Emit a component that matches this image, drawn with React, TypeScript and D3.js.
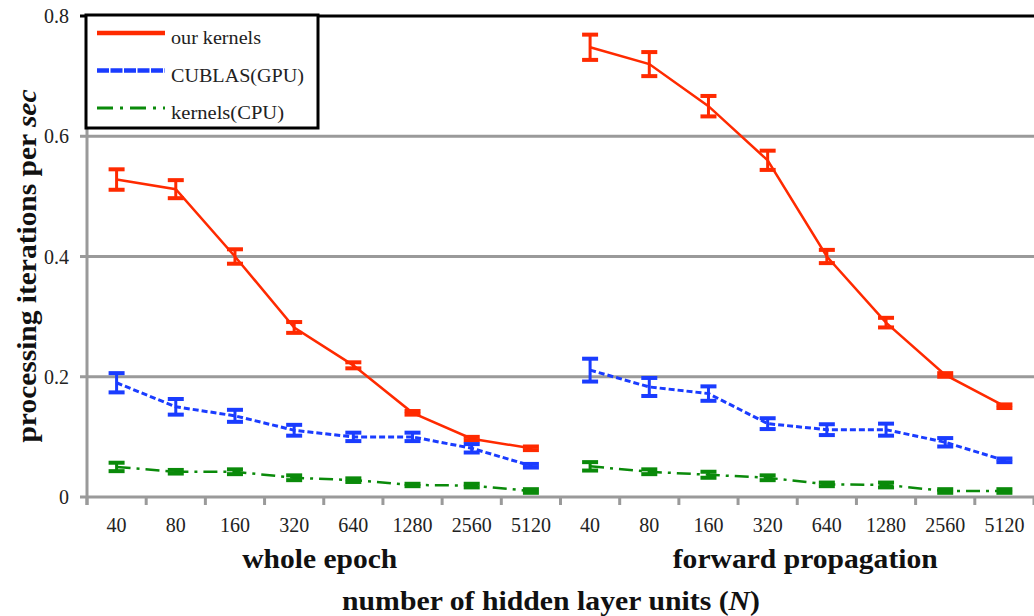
import React from 'react';
import * as d3 from 'd3';

// hidden layer sizes, same for both panels
const units = ['40', '80', '160', '320', '640', '1280', '2560', '5120'];
const panels = ['whole epoch', 'forward propagation'];
const yTicks = [0, 0.2, 0.4, 0.6, 0.8];

// whole epoch
const oursWhole = [0.528, 0.512, 0.4, 0.282, 0.219, 0.14, 0.097, 0.081];
const oursWholeErr = [0.017, 0.015, 0.012, 0.009, 0.005, 0.003, 0.003, 0.003];
const cublasWhole = [0.19, 0.15, 0.135, 0.111, 0.1, 0.1, 0.081, 0.052];
const cublasWholeErr = [0.016, 0.013, 0.01, 0.009, 0.007, 0.007, 0.007, 0.003];
const cpuWhole = [0.05, 0.042, 0.042, 0.032, 0.028, 0.02, 0.019, 0.01];
const cpuWholeErr = [0.007, 0.003, 0.004, 0.004, 0.003, 0.002, 0.003, 0.003];

// forward propagation
const oursFwd = [0.748, 0.72, 0.65, 0.56, 0.4, 0.29, 0.203, 0.151];
const oursFwdErr = [0.021, 0.02, 0.017, 0.016, 0.011, 0.008, 0.003, 0.003];
const cublasFwd = [0.211, 0.183, 0.172, 0.122, 0.112, 0.112, 0.091, 0.061];
const cublasFwdErr = [0.019, 0.015, 0.012, 0.009, 0.009, 0.01, 0.007, 0.003];
const cpuFwd = [0.051, 0.042, 0.037, 0.032, 0.021, 0.02, 0.01, 0.01];
const cpuFwdErr = [0.007, 0.004, 0.005, 0.004, 0.003, 0.004, 0.003, 0.003];

const series = [
  { name: 'our kernels', color: '#ff2a00', dash: undefined, width: 2.5, panels: [[oursWhole, oursWholeErr], [oursFwd, oursFwdErr]] },
  { name: 'CUBLAS(GPU)', color: '#1a3cff', dash: '6 3', width: 3, panels: [[cublasWhole, cublasWholeErr], [cublasFwd, cublasFwdErr]] },
  { name: 'kernels(CPU)', color: '#0a8a0a', dash: '14 6 3 6', width: 2.5, panels: [[cpuWhole, cpuWholeErr], [cpuFwd, cpuFwdErr]] },
];

const W = 1034;
const H = 616;
const left = 87;
const top = 16;
const bottom = 497;
const serif = '"Liberation Serif", "Times New Roman", serif';

export default function App() {
  const keys = panels.flatMap((p) => units.map((u) => p + '|' + u));
  const x = d3.scaleBand<string>().domain(keys).range([left, W]).padding(0);
  const y = d3.scaleLinear().domain([0, 0.8]).range([bottom, top]);
  const bw = x.bandwidth();

  const line = d3.line<[number, number]>().x((d) => d[0]).y((d) => d[1]);

  return (
    <svg width={W} height={H} style={{ position: 'absolute', left: 0, top: 0, background: '#fff' }}>
      {/* grid */}
      {yTicks.map((t) => (
        <g key={t}>
          <line x1={left - 7} x2={W} y1={y(t)} y2={y(t)} stroke={t === 0.8 ? '#000' : '#9a9a9a'} strokeWidth={3} />
          <text x={69} y={y(t) + 7} textAnchor="end" fontFamily={serif} fontSize={20} fill="#222">
            {t === 0 ? '0' : t.toFixed(1)}
          </text>
        </g>
      ))}
      <line x1={left} x2={left} y1={top} y2={bottom + 8} stroke="#9a9a9a" strokeWidth={3} />
      {d3.range(keys.length + 1).map((i) => (
        <line key={i} x1={left + i * bw} x2={left + i * bw} y1={bottom} y2={bottom + 8} stroke="#9a9a9a" strokeWidth={3} />
      ))}

      {/* x tick labels */}
      {keys.map((k) => (
        <text key={k} x={x(k)! + bw / 2} y={532} textAnchor="middle" fontFamily={serif} fontSize={20} fill="#222">
          {k.split('|')[1]}
        </text>
      ))}
      {panels.map((p, i) => (
        <text key={p} x={x(p + '|' + units[0])! + (bw * units.length) / 2 + (i === 0 ? -4 : 8)} y={568}
          textAnchor="middle" fontFamily={serif} fontSize={27} fontWeight="bold" fill="#111"
          textLength={i === 0 ? 155 : 265} lengthAdjust="spacingAndGlyphs">
          {p}
        </text>
      ))}
      <text x={551} y={610} textAnchor="middle" fontFamily={serif} fontSize={27} fontWeight="bold" fill="#111"
        textLength={418} lengthAdjust="spacingAndGlyphs">
        number of hidden layer units (<tspan fontStyle="italic">N</tspan>)
      </text>
      <text transform="translate(36,266) rotate(-90)" textAnchor="middle" fontFamily={serif} fontSize={27} fontWeight="bold" fill="#111"
        textLength={353} lengthAdjust="spacingAndGlyphs">
        processing iterations per <tspan fontStyle="italic">sec</tspan>
      </text>

      {/* series */}
      {series.map((s) => (
        <g key={s.name}>
          {s.panels.map(([vals, errs], pi) => {
            const pts = vals.map((v, i) => [x(panels[pi] + '|' + units[i])! + bw / 2, y(v)] as [number, number]);
            return (
              <g key={pi}>
                <path d={line(pts)!} fill="none" stroke={s.color} strokeWidth={s.width} strokeDasharray={s.dash} />
                {vals.map((v, i) => {
                  const cx = pts[i][0];
                  const y1 = y(v + errs[i]);
                  const y2 = y(v - errs[i]);
                  return (
                    <g key={i} fill={s.color}>
                      <rect x={cx - 1.5} y={y1} width={3} height={y2 - y1} />
                      <rect x={cx - 8} y={y1 - 2} width={16} height={4} />
                      <rect x={cx - 8} y={y2 - 2} width={16} height={4} />
                    </g>
                  );
                })}
              </g>
            );
          })}
        </g>
      ))}

      {/* legend */}
      <rect x={left - 1} y={top - 1} width={232} height={113} fill="#fff" stroke="#000" strokeWidth={3} />
      {series.map((s, i) => {
        const ly = 33 + i * 37.5;
        return (
          <g key={s.name}>
            <line x1={97} x2={165} y1={ly} y2={ly} stroke={s.color}
              strokeWidth={s.name === 'kernels(CPU)' ? 3 : 4.5}
              strokeDasharray={s.name === 'CUBLAS(GPU)' ? '12 1.5' : s.name === 'kernels(CPU)' ? '16 7 3 7' : undefined} />
            <text x={171} y={ly + 11} fontFamily={serif} fontSize={19} fill="#222"
              textLength={s.name === 'our kernels' ? 90 : s.name === 'CUBLAS(GPU)' ? 133 : 113} lengthAdjust="spacingAndGlyphs">
              {s.name}
            </text>
          </g>
        );
      })}
    </svg>
  );
}
